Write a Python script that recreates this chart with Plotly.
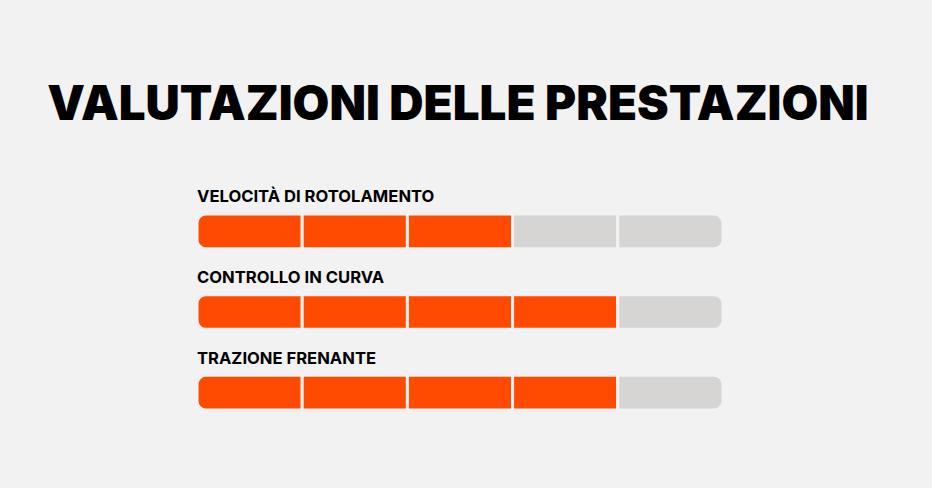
import plotly.graph_objects as go

title_text = "VALUTAZIONI DELLE PRESTAZIONI"
categories = ["VELOCITÀ DI ROTOLAMENTO", "CONTROLLO IN CURVA", "TRAZIONE FRENANTE"]
ratings = [3, 4, 4]
max_rating = 5

ORANGE = "#FF4A00"
GRAY = "#D6D5D4"
BG = "#F2F2F2"

rows = list(range(len(categories)))

def seg_colors(k):
    return [ORANGE if k < r else GRAY for r in ratings]

fig = go.Figure()

# first segment stacked on the negative side so its outer (left) end is rounded
fig.add_trace(go.Bar(
    orientation="h", y=rows, x=[-1] * len(rows),
    width=0.43, marker=dict(color=seg_colors(0), line=dict(color=BG, width=3)),
    hoverinfo="skip", showlegend=False))

# remaining segments stacked on the positive side; last one is outermost -> rounded right end
for k in range(1, max_rating):
    fig.add_trace(go.Bar(
        orientation="h", y=rows, x=[1] * len(rows),
        width=0.43, marker=dict(color=seg_colors(k), line=dict(color=BG, width=3)),
        hoverinfo="skip", showlegend=False))

for i, cat in enumerate(categories):
    fig.add_annotation(x=-1, y=i, xref="x", yref="y", text="<b>" + cat + "</b>",
                       showarrow=False, xanchor="left", yanchor="middle",
                       xshift=-2, yshift=35,
                       font=dict(family="Inter", size=16.6, color="#000000"))

fig.update_layout(
    width=932, height=488,
    paper_bgcolor=BG, plot_bgcolor=BG,
    margin=dict(l=196.5, r=208.5, t=190.5, b=54.5),
    barmode="relative",
    barcornerradius=9,
    title=dict(text=title_text, xref="container", yref="container",
               x=458 / 932, y=1 - 103 / 488, xanchor="center", yanchor="middle",
               font=dict(family="Inter", size=47.5, color="#000000", weight=900)),
    xaxis=dict(range=[-1, max_rating - 1], visible=False, fixedrange=True),
    yaxis=dict(range=[2.5, -0.5], visible=False, fixedrange=True),
)

fig.write_html("out.html")
